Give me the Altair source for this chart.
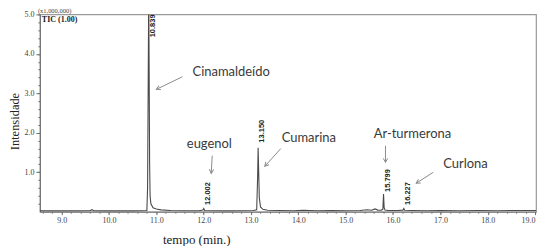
import math
import altair as alt
import pandas as pd

# ---- chromatogram trace (time in min, intensity in x1,000,000) ----
times = [8.54, 8.8, 9.0, 9.3, 9.6, 9.64, 9.68, 9.9, 10.2, 10.5, 10.7, 10.8, 10.815,
         10.828, 10.839, 10.848, 10.858, 10.868, 10.885, 10.93, 11.0, 11.1, 11.3,
         11.6, 11.9, 11.985, 12.002, 12.02, 12.2, 12.5, 12.8, 13.05, 13.12, 13.14,
         13.15, 13.16, 13.175, 13.2, 13.25, 13.35, 13.6, 13.9, 14.1, 14.4, 14.7,
         15.0, 15.3, 15.45, 15.55, 15.62, 15.68, 15.75, 15.785, 15.799, 15.812,
         15.83, 15.9, 16.1, 16.21, 16.227, 16.245, 16.4, 16.7, 17.0, 17.4, 17.8,
         18.2, 18.6, 19.02]
intens = [0.02, 0.02, 0.025, 0.02, 0.025, 0.05, 0.025, 0.02, 0.025, 0.02, 0.025, 0.03, 0.6,
          3.2, 5.6, 3.6, 1.2, 0.4, 0.2, 0.1, 0.07, 0.045, 0.03,
          0.025, 0.025, 0.04, 0.08, 0.03, 0.025, 0.02, 0.025, 0.03, 0.05, 0.9,
          1.62, 1.1, 0.35, 0.12, 0.06, 0.035, 0.03, 0.025, 0.035, 0.025, 0.03,
          0.025, 0.03, 0.05, 0.035, 0.07, 0.04, 0.035, 0.06, 0.45, 0.1,
          0.04, 0.03, 0.03, 0.04, 0.08, 0.035, 0.03, 0.025, 0.03, 0.025, 0.03,
          0.025, 0.03, 0.03]

# ---- peak retention-time labels ----
peak_times = [10.839, 12.002, 13.150, 15.799, 16.227]
peak_labels = ["10.839", "12.002", "13.150", "15.799", "16.227"]
peak_label_y = [4.42, 0.17, 1.75, 0.50, 0.17]

# ---- compound annotations ----
names = ["Cinamaldeído", "eugenol", "Cumarina", "Ar-turmerona", "Curlona"]
name_x = [12.58, 12.12, 14.22, 16.41, 17.53]
name_y = [3.55, 1.72, 1.87, 1.97, 1.22]
arrow_x1 = [11.55, 12.18, 13.63, 15.84, 16.85]
arrow_y1 = [3.42, 1.42, 1.60, 1.67, 1.00]
arrow_x2 = [11.00, 12.16, 13.29, 15.84, 16.49]
arrow_y2 = [3.10, 0.97, 1.15, 1.25, 0.72]

x_major = [9, 10, 11, 12, 13, 14, 15, 16, 17, 18, 19]
y_major = [1, 2, 3, 4, 5]

XDOM = [8.54, 19.02]
YDOM = [0, 5]
W, H = 498, 198

trace = pd.DataFrame({"t": times, "i": intens})
peaks = pd.DataFrame({"t": peak_times, "lab": peak_labels, "y": peak_label_y})
ang = [(math.degrees(math.atan2((x2 - x1) * W / (XDOM[1] - XDOM[0]),
                                (y2 - y1) * H / (YDOM[1] - YDOM[0]))) + 360) % 360
       for x1, y1, x2, y2 in zip(arrow_x1, arrow_y1, arrow_x2, arrow_y2)]
ann = pd.DataFrame({"name": names, "nx": name_x, "ny": name_y,
                    "x1": arrow_x1, "y1": arrow_y1, "x2": arrow_x2, "y2": arrow_y2,
                    "ang": ang})

xs = alt.Scale(domain=XDOM, nice=False, zero=False)
ys = alt.Scale(domain=YDOM, nice=False)

SERIF = "Liberation Serif"
AXC = "#6e6e6e"

x_minor_vals = [round(8.6 + 0.2 * k, 1) for k in range(53)]
y_minor_vals = [round(0.2 * k, 1) for k in range(1, 26)]


def X(f):
    return alt.X(f, scale=xs, axis=None)


def Y(f):
    return alt.Y(f, scale=ys, axis=None)


line = alt.Chart(trace).mark_line(color="#4a4a4a", strokeWidth=1.1, clip=True).encode(
    x=alt.X("t:Q", scale=xs, axis=alt.Axis(
        values=x_major, format=".1f", orient="bottom", grid=False, tickSize=3,
        labelFont=SERIF, labelFontSize=8, labelColor="#444", labelPadding=2,
        domainColor=AXC, tickColor=AXC, title="tempo (min.)", titleFont=SERIF,
        titleFontSize=13, titleFontWeight="normal", titleColor="#222",
        titleX=157, titleY=32, titleAnchor="start", titleAlign="center",
        titleBaseline="alphabetic")),
    y=alt.Y("i:Q", scale=ys, axis=alt.Axis(
        values=y_major, format=".1f", orient="left", grid=False, tickSize=4,
        labelFont=SERIF, labelFontSize=8, labelColor="#444", labelPadding=2,
        domainColor=AXC, tickColor=AXC, title="Intensidade", titleFont=SERIF,
        titleFontSize=12.5, titleFontWeight="normal", titleColor="#222",
        titleAngle=270, titleX=-25, titleY=107, titleAlign="center",
        titleBaseline="middle")),
)

minor = alt.Chart(trace).mark_line(opacity=0).encode(
    x=alt.X("t:Q", scale=xs, axis=alt.Axis(
        values=x_minor_vals, labels=False, orient="bottom", grid=False, tickSize=1.5,
        domain=False, tickColor=AXC, title=None)),
    y=alt.Y("i:Q", scale=ys, axis=alt.Axis(
        values=y_minor_vals, labels=False, orient="left", grid=False, tickSize=2,
        domain=False, tickColor=AXC, title=None)),
)

plabels = alt.Chart(peaks).mark_text(
    angle=270, align="left", baseline="middle", dy=4,
    font="Liberation Sans", fontSize=7.5, fontWeight="bold", color="#222"
).encode(x=X("t:Q"), y=Y("y:Q"), text="lab:N")

names_txt = alt.Chart(ann).mark_text(
    font="Lato", fontSize=13, color="#3a3a3a", align="center", baseline="middle"
).encode(x=X("nx:Q"), y=Y("ny:Q"), text="name:N")

arrows = alt.Chart(ann).mark_rule(color="#8c8c8c", strokeWidth=1).encode(
    x=X("x1:Q"), y=Y("y1:Q"), x2="x2:Q", y2="y2:Q")

heads = alt.Chart(ann).mark_point(
    shape="M-0.55,1L0,0L0.55,1", filled=False, color="#8c8c8c", strokeWidth=1,
    size=64, opacity=1
).encode(x=X("x2:Q"), y=Y("y2:Q"), angle=alt.Angle("ang:Q", scale=None))

hdr = pd.DataFrame({"x": [XDOM[0], XDOM[0]], "y": [5.0, 5.0],
                    "txt": ["(x1,000,000)", "TIC (1.00)"]})
scale_txt = alt.Chart(hdr.iloc[[0]]).mark_text(
    font=SERIF, fontSize=6.5, color="#444", align="left", baseline="bottom",
    dx=-2, dy=-0.5).encode(x=X("x:Q"), y=Y("y:Q"), text="txt:N")
tic_txt = alt.Chart(hdr.iloc[[1]]).mark_text(
    font=SERIF, fontSize=8, fontWeight="bold", color="#222", align="left",
    baseline="top", dx=2, dy=2).encode(x=X("x:Q"), y=Y("y:Q"), text="txt:N")

chart = alt.layer(line, minor, arrows, heads, names_txt, plabels, scale_txt, tic_txt
).resolve_axis(x="independent", y="independent").properties(
    width=W, height=H,
    autosize=alt.AutoSizeParams(type="none"),
    padding={"left": 32, "top": 6, "right": 6, "bottom": 34},
    background="white",
).configure_view(stroke="#9a9a9a", strokeWidth=1.2)

chart.save("out.html", embed_options={"renderer": "svg", "actions": False})
